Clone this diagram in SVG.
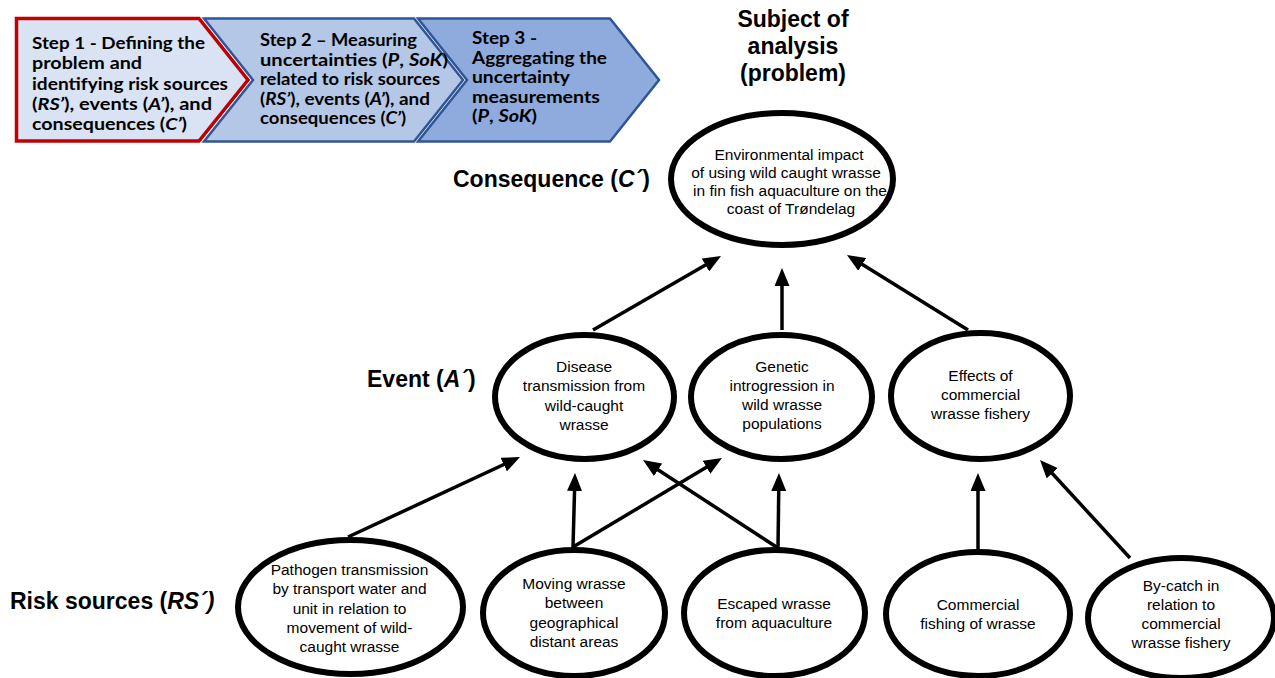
<svg xmlns="http://www.w3.org/2000/svg" width="1275" height="678" viewBox="0 0 1275 678">
<style>
.step{font-family:Lato,"Open Sans","Liberation Sans",sans-serif;font-weight:bold;fill:#000}
.s1{font-size:17.5px}
.s2{font-size:16.5px}
.lbl{font-family:"Liberation Sans",Arial,sans-serif;font-weight:bold;font-size:23px;fill:#000}
.nt{font-family:"Liberation Sans",Arial,sans-serif;font-size:15.5px;fill:#000;text-anchor:middle}
.node{fill:#fff;stroke:#000;stroke-width:6}
.conn line{stroke:#000;stroke-width:3.5;marker-end:url(#ah)}
.it{font-style:italic}
</style>
<defs>
<marker id="ah" markerUnits="userSpaceOnUse" viewBox="0 0 18 15" markerWidth="18" markerHeight="15" refX="13" refY="7.5" orient="auto">
<path d="M0,0 L18,7.5 L0,15 Z" fill="#000"/>
</marker>
</defs>
<rect width="1275" height="678" fill="#fff"/>

<g id="step1">
<path d="M16.5,18.5 H199 L248,80 L199,141 H16.5 Z" fill="#dae3f3" stroke="#c00000" stroke-width="3.5"/>
<text class="step s1" x="32" y="49" textLength="173" lengthAdjust="spacingAndGlyphs">Step 1 - Defining the</text>
<text class="step s1" x="32" y="69" textLength="110" lengthAdjust="spacingAndGlyphs">problem and</text>
<text class="step s1" x="32" y="90" textLength="196" lengthAdjust="spacingAndGlyphs">identifying risk sources</text>
<text class="step s1" x="32" y="110" textLength="180" lengthAdjust="spacingAndGlyphs">(<tspan class="it">RS’</tspan>), events (<tspan class="it">A’</tspan>), and</text>
<text class="step s1" x="32" y="130" textLength="155" lengthAdjust="spacingAndGlyphs">consequences (<tspan class="it">C’</tspan>)</text>
</g>

<g id="step2">
<path d="M204,18.5 H414 L463,80 L414,141.5 H204 L253,80 Z" fill="#b4c7e7" stroke="#2f5597" stroke-width="2.5"/>
<text class="step s2" x="260" y="46" textLength="157" lengthAdjust="spacingAndGlyphs">Step 2 – Measuring</text>
<text class="step s2" x="260" y="66" textLength="188" lengthAdjust="spacingAndGlyphs">uncertainties (<tspan class="it">P</tspan>, <tspan class="it">SoK</tspan>)</text>
<text class="step s2" x="260" y="85" textLength="180" lengthAdjust="spacingAndGlyphs">related to risk sources</text>
<text class="step s2" x="260" y="105" textLength="170" lengthAdjust="spacingAndGlyphs">(<tspan class="it">RS’</tspan>), events (<tspan class="it">A’</tspan>), and</text>
<text class="step s2" x="260" y="124" textLength="146" lengthAdjust="spacingAndGlyphs">consequences (<tspan class="it">C’</tspan>)</text>
</g>

<g id="step3">
<path d="M418,18.5 H610 L659,80 L610,141.5 H418 L467,80 Z" fill="#8faadc" stroke="#2f5597" stroke-width="2.5"/>
<text class="step s2" x="472" y="44" textLength="65" lengthAdjust="spacingAndGlyphs">Step 3 -</text>
<text class="step s2" x="472" y="63.5" textLength="135" lengthAdjust="spacingAndGlyphs">Aggregating the</text>
<text class="step s2" x="472" y="83" textLength="98" lengthAdjust="spacingAndGlyphs">uncertainty</text>
<text class="step s2" x="472" y="102.5" textLength="128" lengthAdjust="spacingAndGlyphs">measurements</text>
<text class="step s2" x="472" y="122" textLength="65" lengthAdjust="spacingAndGlyphs">(<tspan class="it">P</tspan>, <tspan class="it">SoK</tspan>)</text>
</g>

<g id="labels">
<text class="lbl" x="793" y="27" text-anchor="middle">Subject of</text>
<text class="lbl" x="793" y="54" text-anchor="middle">analysis</text>
<text class="lbl" x="793" y="81" text-anchor="middle">(problem)</text>
<text class="lbl" x="453" y="187">Consequence (<tspan class="it">C´</tspan>)</text>
<text class="lbl" x="367" y="387">Event (<tspan class="it">A´</tspan>)</text>
<text class="lbl" x="10" y="609">Risk sources (<tspan class="it">RS´)</tspan></text>
</g>

<g id="connectors" class="conn">
<line x1="593" y1="330" x2="716.7" y2="258.5"/>
<line x1="782" y1="330" x2="782" y2="273"/>
<line x1="968" y1="330" x2="851.2" y2="257.6"/>
<line x1="348" y1="537" x2="515.5" y2="459.1"/>
<line x1="573" y1="547" x2="574.9" y2="478"/>
<line x1="573" y1="547" x2="717.7" y2="460.6"/>
<line x1="778" y1="548" x2="647.2" y2="462.7"/>
<line x1="778" y1="548" x2="778.9" y2="478"/>
<line x1="978" y1="550" x2="978" y2="478"/>
<line x1="1130" y1="558" x2="1043.4" y2="463.7"/>
</g>

<g id="n-consequence">
<ellipse class="node" cx="782" cy="179" rx="111" ry="66"/>
<text class="nt" x="789" y="159.5">Environmental impact</text>
<text class="nt" x="786" y="177.5">of using wild caught wrasse</text>
<text class="nt" x="790" y="195.5">in fin fish aquaculture on the</text>
<text class="nt" x="791" y="213.5">coast of Trøndelag</text>
</g>

<g id="n-disease">
<ellipse class="node" cx="584.5" cy="397" rx="89.5" ry="62"/>
<text class="nt" x="584" y="372">Disease</text>
<text class="nt" x="584" y="391">transmission from</text>
<text class="nt" x="584" y="410.5">wild-caught</text>
<text class="nt" x="584" y="429.5">wrasse</text>
</g>

<g id="n-genetic">
<ellipse class="node" cx="781.5" cy="397" rx="90.5" ry="62"/>
<text class="nt" x="782" y="371.5">Genetic</text>
<text class="nt" x="782" y="390.5">introgression in</text>
<text class="nt" x="782" y="410">wild wrasse</text>
<text class="nt" x="782" y="429">populations</text>
</g>

<g id="n-effects">
<ellipse class="node" cx="980.5" cy="396" rx="89.5" ry="63"/>
<text class="nt" x="980.5" y="381">Effects of</text>
<text class="nt" x="980.5" y="400">commercial</text>
<text class="nt" x="980.5" y="419">wrasse fishery</text>
</g>

<g id="n-pathogen">
<ellipse class="node" cx="350.5" cy="607" rx="112.5" ry="67"/>
<text class="nt" x="349.5" y="575">Pathogen transmission</text>
<text class="nt" x="349.5" y="594.3">by transport water and</text>
<text class="nt" x="349.5" y="613.5">unit in relation to</text>
<text class="nt" x="349.5" y="632.8">movement of wild-</text>
<text class="nt" x="349.5" y="652">caught wrasse</text>
</g>

<g id="n-moving">
<ellipse class="node" cx="574" cy="613" rx="91" ry="63"/>
<text class="nt" x="574" y="589">Moving wrasse</text>
<text class="nt" x="574" y="608">between</text>
<text class="nt" x="574" y="627.5">geographical</text>
<text class="nt" x="574" y="646.5">distant areas</text>
</g>

<g id="n-escaped">
<ellipse class="node" cx="774.5" cy="613" rx="90.5" ry="63"/>
<text class="nt" x="774" y="608.5">Escaped wrasse</text>
<text class="nt" x="774" y="628">from aquaculture</text>
</g>

<g id="n-commercial">
<ellipse class="node" cx="978" cy="614" rx="92" ry="62"/>
<text class="nt" x="978" y="609.5">Commercial</text>
<text class="nt" x="978" y="628.5">fishing of wrasse</text>
</g>

<g id="n-bycatch">
<ellipse class="node" cx="1181" cy="618" rx="93" ry="60"/>
<text class="nt" x="1181" y="591">By-catch in</text>
<text class="nt" x="1181" y="610">relation to</text>
<text class="nt" x="1181" y="629">commercial</text>
<text class="nt" x="1181" y="648">wrasse fishery</text>
</g>
</svg>
